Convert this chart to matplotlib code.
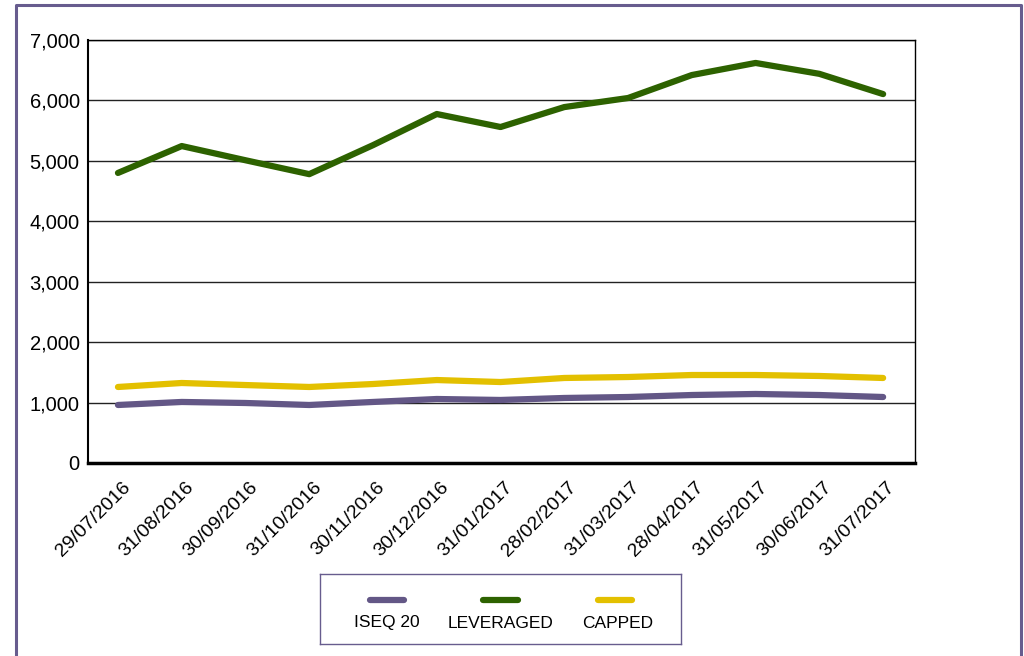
import matplotlib
matplotlib.use('Agg')
import matplotlib.pyplot as plt
import matplotlib.transforms as mtransforms
from matplotlib.lines import Line2D
from matplotlib.ticker import FuncFormatter

plt.rcParams['font.family'] = ['Liberation Sans', 'DejaVu Sans']

dates = ['29/07/2016', '31/08/2016', '30/09/2016', '31/10/2016', '30/11/2016',
         '30/12/2016', '31/01/2017', '28/02/2017', '31/03/2017', '28/04/2017',
         '31/05/2017', '30/06/2017', '31/07/2017']
iseq20 = [960, 1010, 993, 960, 1010, 1059, 1043, 1076, 1092, 1125, 1142, 1125, 1092]
leveraged = [4800, 5245, 5010, 4780, 5260, 5775, 5560, 5890, 6040, 6420, 6620, 6440, 6105]
capped = [1258, 1324, 1290, 1258, 1307, 1373, 1340, 1407, 1423, 1456, 1456, 1440, 1407]

series_names = ['ISEQ 20', 'LEVERAGED', 'CAPPED']
colors = ['#635786', '#2d6200', '#e3c000']
frame_col = '#675c8e'

fig = plt.figure(figsize=(10.24, 6.56), dpi=100)
ax = fig.add_axes([88/1024, 1 - 463/656, (915-88)/1024, (463-40)/656])

x = list(range(len(dates)))
for vals, c in zip([leveraged, capped, iseq20], [colors[1], colors[2], colors[0]]):
    ax.plot(x, vals, color=c, linewidth=4.5, solid_capstyle='round', solid_joinstyle='round')

ax.set_xlim(-0.47, len(dates) - 0.5)
ax.set_ylim(0, 7000)
ax.set_yticks(range(0, 7001, 1000))
ax.yaxis.set_major_formatter(FuncFormatter(lambda v, p: f'{int(v):,}'))
ax.grid(axis='y', color='#222222', linewidth=1.0)
ax.set_axisbelow(True)

for s in ['top', 'right', 'left']:
    ax.spines[s].set_linewidth(1.0)
    ax.spines[s].set_color('black')
ax.spines['left'].set_linewidth(1.5)
ax.spines['bottom'].set_linewidth(2.5)

ax.set_xticks(x)
ax.set_xticklabels(dates, rotation=45, ha='right', va='center', rotation_mode='anchor', fontsize=14)
ax.tick_params(axis='x', length=0, pad=0)
ax.tick_params(axis='y', length=0, pad=6, labelsize=14.5)
offset = mtransforms.ScaledTranslation(0.095, -0.22, fig.dpi_scale_trans)
for lbl in ax.get_xticklabels():
    lbl.set_transform(lbl.get_transform() + offset)

# legend drawn in its own small axes (handle above label)
lax = fig.add_axes([320/1024, 1 - 644/656, 361/1024, 70/656])
lax.set_xlim(0, 1)
lax.set_ylim(0, 1)
lax.set_xticks([])
lax.set_yticks([])
for s in lax.spines.values():
    s.set_color(frame_col)
    s.set_linewidth(1.0)
hx = [(0.1385, 0.2327), (0.4515, 0.5485), (0.770, 0.864)]
tx = [0.1856, 0.5014, 0.8255]
for (a, b), t, name, c in zip(hx, tx, series_names, colors):
    lax.plot([a, b], [0.629, 0.629], color=c, linewidth=4.5, solid_capstyle='round')
    lax.text(t, 0.30, name, ha='center', va='center', fontsize=12.5)

# outer frame
fig.add_artist(Line2D([16/1024, 16/1024, 1021/1024, 1021/1024],
                      [-0.05, 1 - 5/656, 1 - 5/656, -0.05],
                      color=frame_col, linewidth=2.2, transform=fig.transFigure))

fig.savefig('out.png', dpi=100)
